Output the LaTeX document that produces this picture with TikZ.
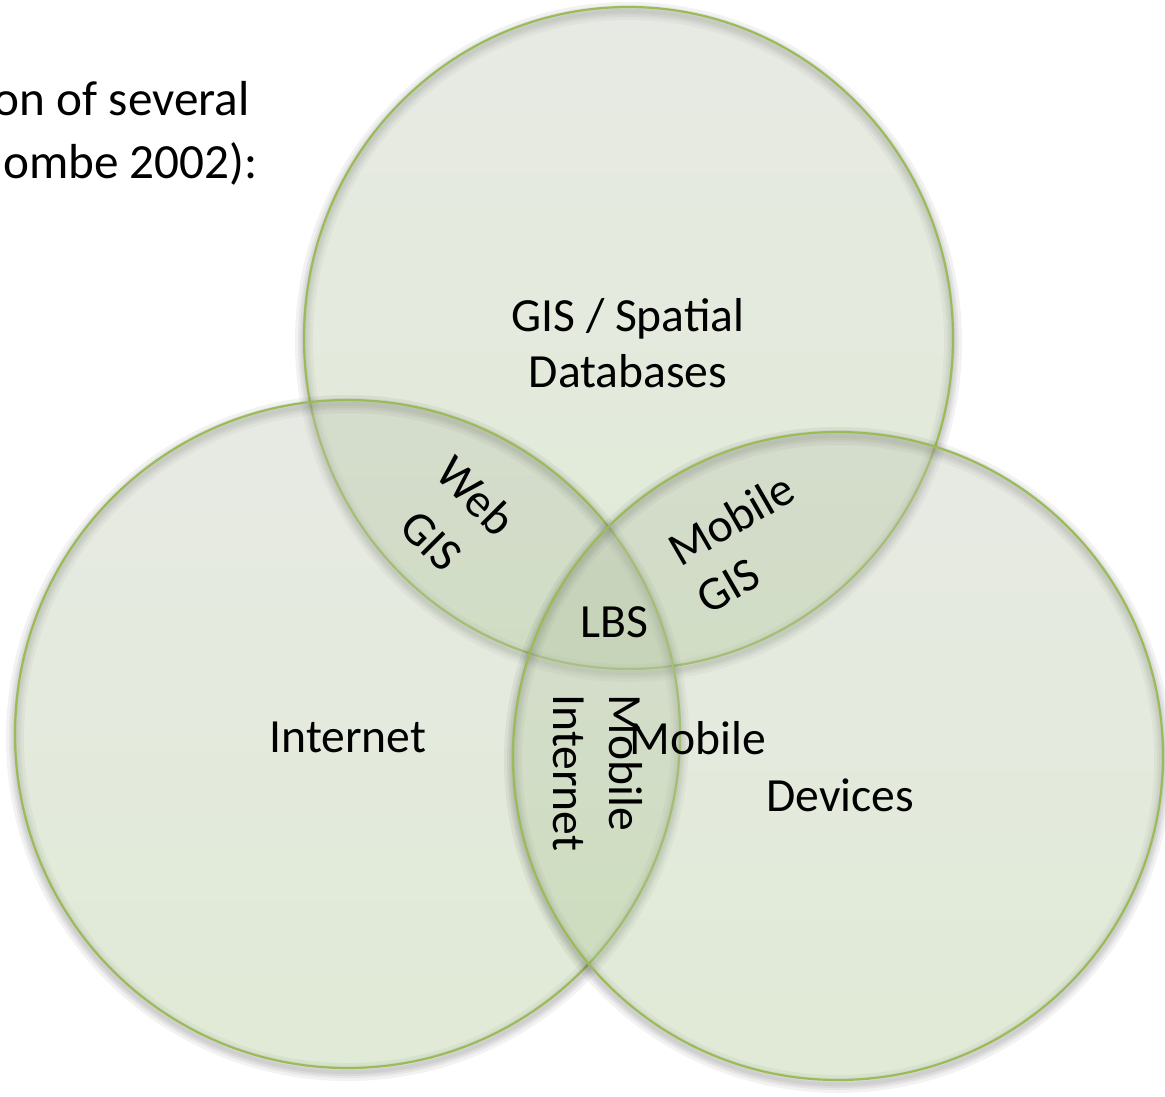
\documentclass[tikz,border=0pt]{standalone}
\usepackage{fontspec}
\setmainfont{Carlito}
\definecolor{vline}{RGB}{155,187,89}
\definecolor{vtop}{RGB}{190,196,180}
\definecolor{vbot}{RGB}{168,198,140}
\begin{document}
\begin{tikzpicture}[x=0.5pt,y=-0.5pt,
  every node/.style={inner sep=0pt, text=black},
  lbl/.style={font=\fontsize{23.8pt}{28pt}\selectfont},
  intro/.style={font=\fontsize{24.6pt}{31pt}\selectfont},
  vshadow/.style={draw=black, draw opacity=0.05},
  vfill/.style={top color=vtop, bottom color=vbot, fill opacity=0.36},
  vedge/.style={draw=vline, line width=1.1pt}
]
\useasboundingbox (0,0) rectangle (1165,1096);
\clip (0,0) rectangle (1165,1096);

% three overlapping sets: centre x, centre y, x radius, y radius
\foreach \cx/\cy/\rx/\ry in {628.5/338/324.5/331, 347.5/734/332.5/334, 838/756/325/324}{
  % soft shadow, offset downwards
  \foreach \w in {18,12,8,4}
    \draw[vshadow, line width=\w*0.5pt] (\cx,\cy+4) ellipse [x radius=\rx, y radius=\ry];
  % translucent body and rim
  \shade[vfill] (\cx,\cy) ellipse [x radius=\rx, y radius=\ry];
  \draw[vedge] (\cx,\cy) ellipse [x radius=\rx, y radius=\ry];
}

% text continuing from the left margin
\node[intro, anchor=base east] (intro1) at (250,116) {on of several};
\node[intro, anchor=base east] (intro2) at (258,179) {ombe 2002):};

% set labels
\node[lbl, align=center] (gis) at (628,343) {GIS / Spatial\\Databases};
\node[lbl, anchor=base] (inet) at (348,752) {Internet};
\node[lbl, anchor=base] (mobdev1) at (698,754) {Mobile};
\node[lbl, anchor=base] (mobdev2) at (840,811) {Devices};

% intersection labels
\node[lbl, anchor=base] (lbs) at (614,637) {LBS};
\node[font=\fontsize{23.8pt}{31.5pt}\selectfont, align=center, rotate=-45] (webgis) at (454,518) {Web\\GIS};
\node[lbl, align=left, rotate=30] (mobgis) at (745,543) {Mobile\\GIS};
\node[lbl, align=left, rotate=-90] (mobinet) at (598,773) {Mobile\\Internet};
\end{tikzpicture}
\end{document}
